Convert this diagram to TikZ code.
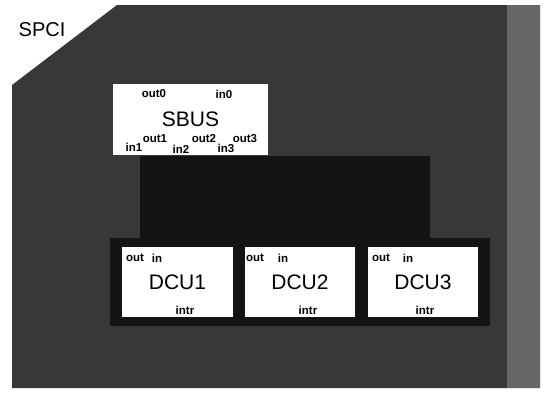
\documentclass[tikz,border=0pt]{standalone}
\usepackage{fontspec}
\setmainfont{Liberation Sans}
\begin{document}
\begin{tikzpicture}[x=1pt,y=-1pt,
  box/.style={fill=white,draw=none,inner sep=0pt},
  big/.style={font=\fontsize{21}{21}\selectfont},
  port/.style={font=\bfseries\fontsize{11.5}{11.5}\selectfont,inner sep=0pt}]
\useasboundingbox (0,0) rectangle (547,392);
\fill[white] (0,0) rectangle (547,392);
% board
\fill[black!78] (117,5) -- (540,5) -- (540,388) -- (12,388) -- (12,85) -- cycle;
\fill[black!60] (507,5) rectangle (540,388);
\fill[black!92] (140,156) rectangle (430,246);
\fill[black!92] (110,238) rectangle (490,326);
% SPCI label
\node[font=\fontsize{20}{20}\selectfont,inner sep=0pt] (spci) at (42,30) {SPCI};
% SBUS
\node[box,big,minimum width=155pt,minimum height=71pt] (sbus) at (190.5,119.5) {SBUS};
\node[port] (out0) at (154,94) {out0};
\node[port] (in0) at (224,94) {in0};
\node[port] (in1) at (134,147) {in1};
\node[port] (out1) at (155,139) {out1};
\node[port] (in2) at (181,149) {in2};
\node[port] (out2) at (204,139) {out2};
\node[port] (in3) at (226,148) {in3};
\node[port] (out3) at (245,139) {out3};
% DCUs
\node[box,big,minimum width=111pt,minimum height=70pt] (dcu1) at (177.5,282) {DCU1};
\node[box,big,minimum width=110pt,minimum height=70pt] (dcu2) at (300,282) {DCU2};
\node[box,big,minimum width=110pt,minimum height=70pt] (dcu3) at (423,282) {DCU3};
\node[port] (d1out) at (135,258) {out};
\node[port] (d1in) at (157,258) {in};
\node[port] (d1intr) at (185,310) {intr};
\node[port] (d2out) at (255,258) {out};
\node[port] (d2in) at (283,258) {in};
\node[port] (d2intr) at (308,310) {intr};
\node[port] (d3out) at (381,258) {out};
\node[port] (d3in) at (408,258) {in};
\node[port] (d3intr) at (425,310) {intr};
\end{tikzpicture}
\end{document}
